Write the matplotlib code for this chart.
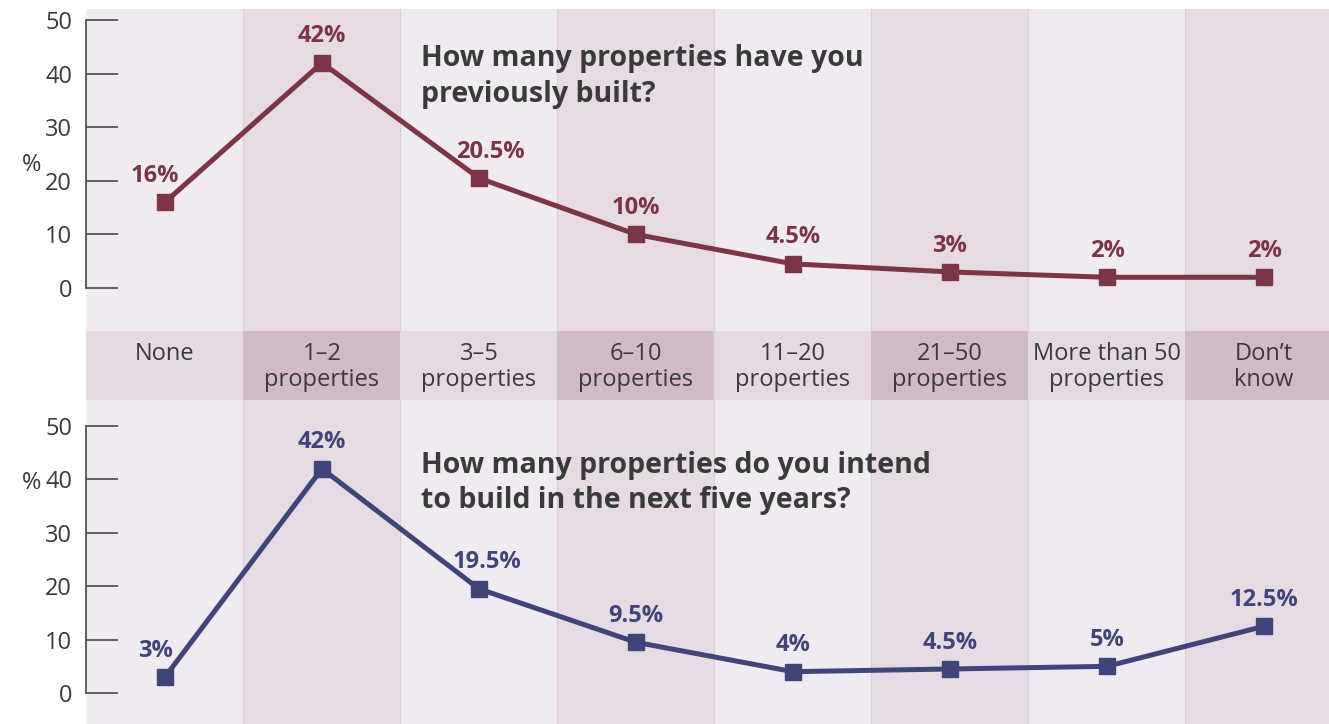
import matplotlib.pyplot as plt

categories = ["None", "1\u20132\nproperties", "3\u20135\nproperties", "6\u201310\nproperties",
              "11\u201320\nproperties", "21\u201350\nproperties", "More than 50\nproperties", "Don\u2019t\nknow"]
built = [16, 42, 20.5, 10, 4.5, 3, 2, 2]
built_labels = ["16%", "42%", "20.5%", "10%", "4.5%", "3%", "2%", "2%"]
intend = [3, 42, 19.5, 9.5, 4, 4.5, 5, 12.5]
intend_labels = ["3%", "42%", "19.5%", "9.5%", "4%", "4.5%", "5%", "12.5%"]
yticks = [0, 10, 20, 30, 40, 50]

plt.rcParams['font.family'] = ['Open Sans', 'DejaVu Sans']

W, H = 1329, 724
fig = plt.figure(figsize=(W / 100, H / 100), dpi=100)

MAROON = '#7b3547'
NAVY = '#414479'
TXT = '#3a3a3a'
BAND_LIGHT = '#f0ebf0'
BAND_DARK = '#e6dae3'
STRIP_LIGHT = '#e4d8e1'
STRIP_DARK = '#d0bac8'

xmin, xmax = -0.503, 7.414


def px_axes(top, bottom, left=86, right=W):
    return fig.add_axes([left / W, 1 - bottom / H, (right - left) / W, (bottom - top) / H])


def draw_bands(ax, light, dark, lines=True):
    for i in range(len(categories)):
        ax.axvspan(i - 0.5, i + 0.5, color=dark if i % 2 else light, lw=0, zorder=0)
        if lines and i > 0:
            ax.axvline(i - 0.5, color='#dccbd6', lw=0.8, zorder=0.5)


def panel(ax, values, labels, color, ylim, title, xoffs, pct_y):
    ax.set_xlim(xmin, xmax)
    ax.set_ylim(*ylim)
    draw_bands(ax, BAND_LIGHT, BAND_DARK)
    for s in ['top', 'right', 'bottom']:
        ax.spines[s].set_visible(False)
    ax.spines['left'].set_bounds(0, 50)
    ax.spines['left'].set_color('#555555')
    ax.spines['left'].set_linewidth(1.3)
    ax.set_xticks([])
    ax.set_yticks(yticks)
    ax.tick_params(axis='y', direction='in', length=23, width=1.3, color='#555555',
                   labelsize=17, labelcolor=TXT, pad=10)
    x = list(range(len(values)))
    ax.plot(x, values, color=color, lw=3.6, marker='s', markersize=12, zorder=3, clip_on=False)
    for xi, v, lab, dx in zip(x, values, labels, xoffs):
        ax.annotate(lab, (xi, v), xytext=(dx, 19), textcoords='offset points',
                    ha='center', va='center', fontsize=17, fontweight='bold', color=color)
    ax.text(1.63, title[1], title[0], fontsize=20.5, fontweight='bold', color=TXT,
            ha='left', va='top', linespacing=1.3)
    ax.text(-0.85, pct_y, '%', fontsize=17, color=TXT, ha='center', va='center')


# top panel: y=0 at px 288, y=50 at px 20
top_ax = px_axes(9, 331)
panel(top_ax, built, built_labels, MAROON, (-8.02, 52.05),
      ("How many properties have you\npreviously built?", 45.5),
      [-7, 0, 8, 0, 0, 0, 0, 0], 23.0)

# bottom panel: y=0 at px 693, y=50 at px 426
bot_ax = px_axes(400, 724)
panel(bot_ax, intend, intend_labels, NAVY, (-5.8, 54.87),
      ("How many properties do you intend\nto build in the next five years?", 45.4),
      [-7, 0, 6, 0, 0, 0, 0, 0], 39.3)

# category strip
strip = px_axes(331, 400)
strip.set_xlim(xmin, xmax)
strip.set_ylim(0, 1)
strip.axis('off')
draw_bands(strip, STRIP_LIGHT, STRIP_DARK, lines=False)
for i, c in enumerate(categories):
    strip.text(i, 0.835, c, ha='center', va='top', fontsize=17, color=TXT, linespacing=1.1)

fig.savefig('out.png', dpi=100)
